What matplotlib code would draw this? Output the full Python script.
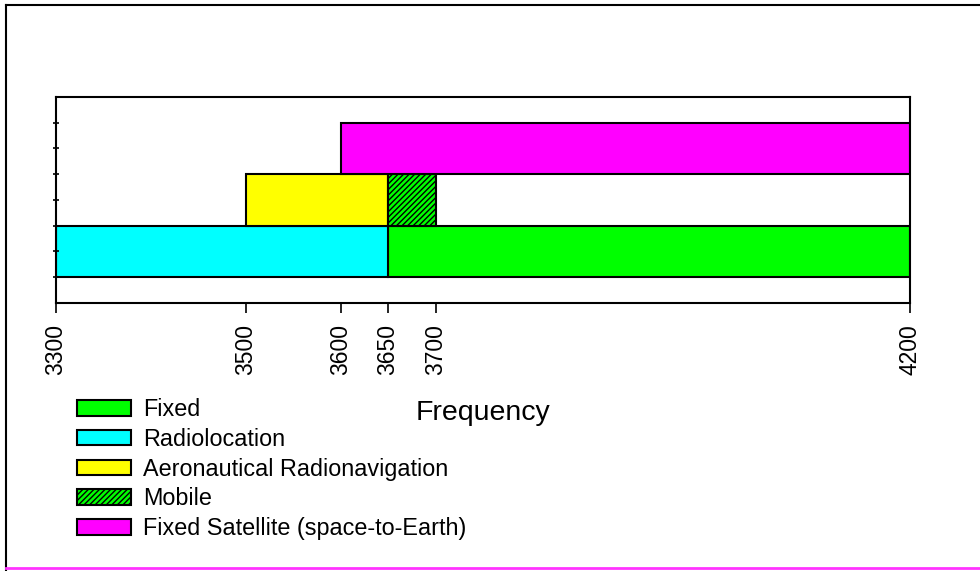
import matplotlib
matplotlib.use("Agg")
import matplotlib.pyplot as plt
from matplotlib.lines import Line2D

plt.rcParams['font.family'] = ['Liberation Sans', 'DejaVu Sans']
plt.rcParams['hatch.linewidth'] = 1.0

# frequency allocations (MHz): name, start, stop, row
services = ['Fixed', 'Radiolocation', 'Aeronautical Radionavigation', 'Mobile',
            'Fixed Satellite (space-to-Earth)']
start = [3650, 3300, 3500, 3650, 3600]
stop = [4200, 3650, 3650, 3700, 4200]
row = [2, 2, 4, 4, 6]
colors = ['#00ff00', '#00ffff', '#ffff00', '#00ff00', '#ff00ff']
hatches = [None, None, None, '//////', None]

xticks = [3300, 3500, 3600, 3650, 3700, 4200]
yticks = [1, 2, 3, 4, 5, 6, 7]

fig = plt.figure(figsize=(9.8, 5.71), dpi=100)
ax = fig.add_axes([0.0571, 0.4694, 0.8714, 0.3608])

for name, s, e, r, c, h in zip(services, start, stop, row, colors, hatches):
    ax.barh(r, e - s, left=s, height=2, color=c, edgecolor='black',
            linewidth=1.5, hatch=h, label=name)

ax.set_xlim(3300, 4200)
ax.set_ylim(0, 8)
ax.set_xticks(xticks)
ax.set_xticklabels([str(t) for t in xticks], rotation=90, fontsize=16.5)
ax.set_yticks(yticks)
ax.set_yticklabels([])
ax.tick_params(axis='x', direction='out', length=7, width=1.2, pad=8)
ax.tick_params(axis='y', direction='inout', length=5, width=1.2)
for sp in ax.spines.values():
    sp.set_linewidth(1.5)

ax.set_xlabel('Frequency', fontsize=20.5)
ax.xaxis.set_label_coords(0.5, -0.534)
ax.xaxis.label.set_va('center')

ax.legend(loc='upper left', bbox_to_anchor=(0.079, 1 - 398 / 571),
          bbox_transform=fig.transFigure, frameon=False, fontsize=16.8,
          handlelength=2.28, handleheight=0.65, handletextpad=0.55,
          labelspacing=0.29, borderpad=0, borderaxespad=0)

# figure border
fig.add_artist(Line2D([6 / 980, 6 / 980], [0, 1 - 5 / 571],
                      transform=fig.transFigure, color='black', lw=1.5))
fig.add_artist(Line2D([6 / 980, 1], [1 - 5 / 571, 1 - 5 / 571],
                      transform=fig.transFigure, color='black', lw=1.5))
fig.add_artist(Line2D([6 / 980, 1], [1 - 568 / 571, 1 - 568 / 571],
                      transform=fig.transFigure, color='#ff33ff', lw=2))

fig.savefig('out.png', dpi=100)
